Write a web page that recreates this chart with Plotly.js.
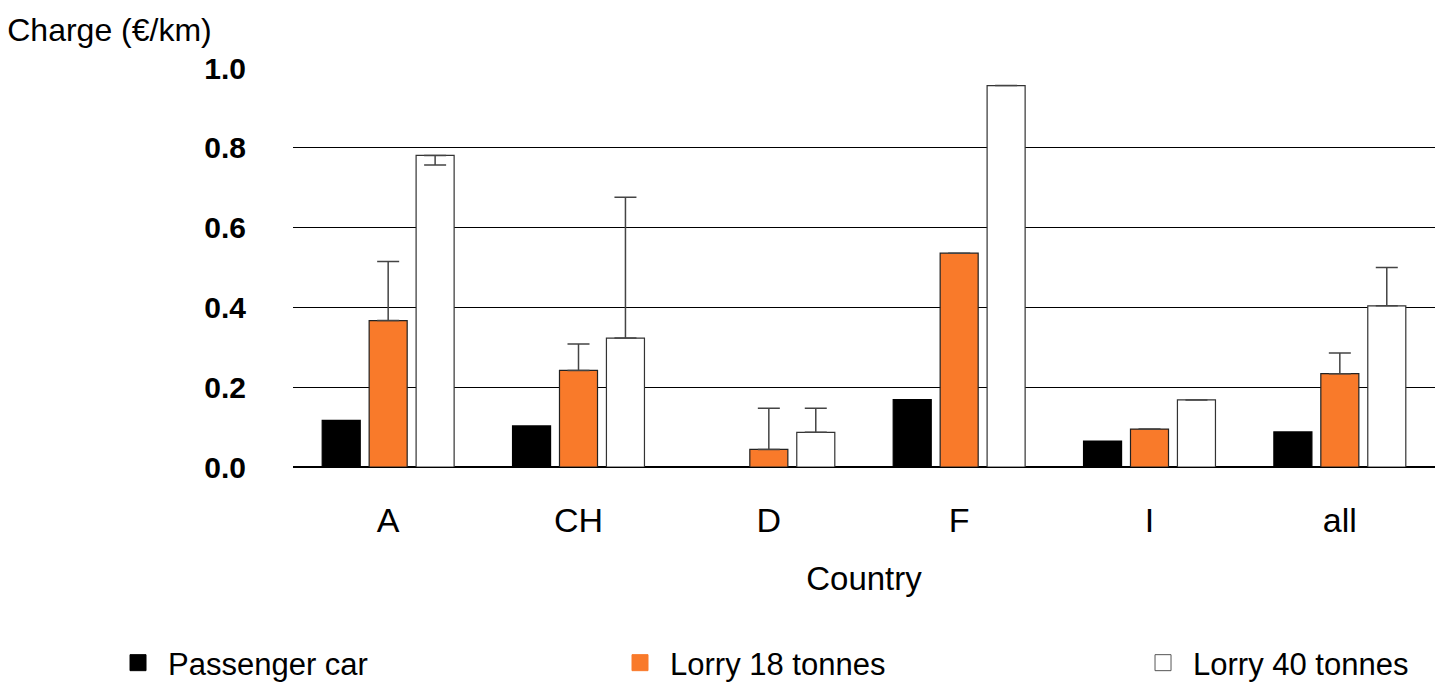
<!DOCTYPE html>
<html>
<head>
<meta charset="utf-8">
<script src="https://cdn.plot.ly/plotly-3.0.1.min.js"></script>
<style>html,body{margin:0;padding:0;background:#fff;}#chart{width:1450px;height:686px;}</style>
</head>
<body>
<div id="chart"></div>
<script>
const countries = ["A", "CH", "D", "F", "I", "all"];
const seriesNames = ["Passenger car", "Lorry 18 tonnes", "Lorry 40 tonnes"];
const passengerCar = [0.117, 0.103, 0, 0.169, 0.065, 0.088];
const lorry18 = [0.367, 0.242, 0.044, 0.536, 0.095, 0.234];
const lorry40 = [0.781, 0.323, 0.087, 0.956, 0.168, 0.404];
const lorry18ErrPlus = [0.148, 0.066, 0.103, 0, 0, 0.052];
const lorry40ErrPlus = [0, 0.353, 0.060, 0, 0, 0.096];
const lorry40ErrMinus = [0.024, 0, 0, 0, 0, 0];
const yTicks = [0, 0.2, 0.4, 0.6, 0.8, 1.0];

const FONT = "Liberation Sans, Arial, sans-serif";
const colors = ["#000000", "#F97A2A", "#FFFFFF"];
const lineColors = ["#000000", "#222222", "#333333"];
const errStyle = {color: "#444444", thickness: 1.5, width: 11};

const values = [passengerCar, lorry18, lorry40];
const traces = values.map((v, i) => {
  const t = {
    type: "bar", x: countries, y: v, name: seriesNames[i],
    marker: {color: colors[i], line: {color: lineColors[i], width: 1.2}},
    showlegend: false, hoverinfo: "x+y"
  };
  if (i === 1) t.error_y = Object.assign({type: "data", symmetric: false, array: lorry18ErrPlus, arrayminus: [0,0,0,0,0,0]}, errStyle);
  if (i === 2) t.error_y = Object.assign({type: "data", symmetric: false, array: lorry40ErrPlus, arrayminus: lorry40ErrMinus}, errStyle);
  return t;
});
// legend entries (no data points) with larger square symbols
const legendNames = ["legend", "legend2", "legend3"];
seriesNames.forEach((n, i) => {
  traces.push({
    type: "scatter", mode: "markers", x: [null], y: [null], name: n,
    marker: {symbol: "square", size: 16, color: colors[i], line: {color: i === 2 ? "#555" : colors[i], width: 1}},
    legend: legendNames[i], showlegend: true, hoverinfo: "skip"
  });
});

const legendBase = {orientation: "h", xref: "container", yref: "container",
  yanchor: "middle", y: 0.0335, xanchor: "left", itemwidth: 50,
  font: {family: FONT, size: 31, color: "#000"}, bgcolor: "rgba(0,0,0,0)", itemsizing: "trace"};

const layout = {
  width: 1450, height: 686,
  margin: {l: 293, r: 15, t: 68, b: 219},
  paper_bgcolor: "#fff", plot_bgcolor: "#fff",
  barmode: "group", bargap: 0.26, bargroupgap: 0.19,
  title: {text: "Charge (€/km)", x: 0.005, xref: "container", xanchor: "left",
    y: 0.956, yref: "container", yanchor: "middle",
    font: {family: FONT, size: 32, color: "#000"}},
  xaxis: {
    type: "category", showgrid: false, zeroline: false,
    showline: false, ticks: "", tickfont: {family: FONT, size: 34, color: "#000"},
    ticklabelstandoff: 30,
    title: {text: "Country", font: {family: FONT, size: 33, color: "#000"}, standoff: 28}
  },
  yaxis: {
    range: [0, 1.0], tickvals: yTicks, tickformat: ".1f",
    showgrid: true, gridcolor: "#000", gridwidth: 1,
    zeroline: true, zerolinecolor: "#000", zerolinewidth: 1.5,
    showline: false, ticks: "",
    tickfont: {family: FONT, size: 30, color: "#000", weight: "bold"},
    ticklabelstandoff: 46
  },
  legend: Object.assign({}, legendBase, {x: 0.0745}),
  legend2: Object.assign({}, legendBase, {x: 0.4207}),
  legend3: Object.assign({}, legendBase, {x: 0.7814}),
  showlegend: true
};

Plotly.newPlot("chart", traces, layout, {displayModeBar: false, staticPlot: true});
</script>
</body>
</html>
